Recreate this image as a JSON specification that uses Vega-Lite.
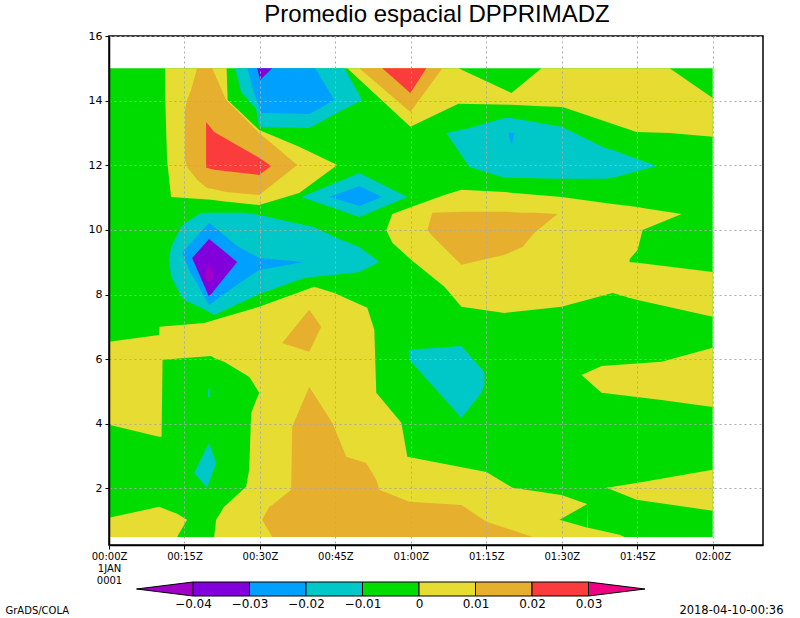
{
"$schema": "https://vega.github.io/schema/vega-lite/v6.json",
"width": 654, "height": 509,
"autosize": {"type": "none"},
"padding": {"left": 109, "top": 36, "right": 37, "bottom": 73},
"background": "white",
"config": {"view": {"stroke": "black", "strokeWidth": 1.5}, "font": "DejaVu Sans"},
"datasets": {
"bg": [{"id":"bg","t":0,"lo":0.5,"hi":15,"v":-0.005},{"id":"bg","t":120,"lo":0.5,"hi":15,"v":-0.005}],
"yel": [
{"id":"Y1","t":11.14,"lo":14.33,"hi":15,"v":0.005},{"id":"Y1","t":11.54,"lo":12.16,"hi":15,"v":0.005},{"id":"Y1","t":12.34,"lo":11.02,"hi":15,"v":0.005},{"id":"Y1","t":20.30,"lo":10.93,"hi":15,"v":0.005},{"id":"Y1","t":23.38,"lo":10.87,"hi":15,"v":0.005},{"id":"Y1","t":23.58,"lo":10.87,"hi":14.02,"v":0.005},{"id":"Y1","t":29.85,"lo":10.77,"hi":13.09,"v":0.005},{"id":"Y1","t":37.81,"lo":11.14,"hi":12.57,"v":0.005},{"id":"Y1","t":45.37,"lo":12.01,"hi":12.01,"v":0.005},
{"id":"Y2","t":47.36,"lo":15,"hi":15,"v":0.005},{"id":"Y2","t":59.90,"lo":13.19,"hi":15,"v":0.005},{"id":"Y2","t":69.45,"lo":13.90,"hi":15,"v":0.005},{"id":"Y2","t":80.00,"lo":13.87,"hi":14.24,"v":0.005},{"id":"Y2","t":85.97,"lo":13.83,"hi":15,"v":0.005},{"id":"Y2","t":90.15,"lo":13.80,"hi":15,"v":0.005},{"id":"Y2","t":104.87,"lo":13.03,"hi":15,"v":0.005},{"id":"Y2","t":111.44,"lo":13.00,"hi":15,"v":0.005},{"id":"Y2","t":120,"lo":12.88,"hi":14.08,"v":0.005},
{"id":"Y3a","t":55.12,"lo":10,"hi":10,"v":0.005},{"id":"Y3a","t":56.32,"lo":9.60,"hi":10.49,"v":0.005},{"id":"Y3a","t":60.10,"lo":9.07,"hi":10.71,"v":0.005},{"id":"Y3a","t":66.67,"lo":8.24,"hi":11.08,"v":0.005},{"id":"Y3a","t":70.05,"lo":7.62,"hi":11.24,"v":0.005},{"id":"Y3a","t":78.61,"lo":7.43,"hi":11.17,"v":0.005},{"id":"Y3a","t":89.95,"lo":7.62,"hi":11.02,"v":0.005},{"id":"Y3a","t":100.10,"lo":8.05,"hi":10.80,"v":0.005},{"id":"Y3a","t":103.48,"lo":7.90,"hi":10.74,"v":0.005},
{"id":"Y3b","t":103.0,"lo":9.01,"hi":10.75,"v":0.005},{"id":"Y3b","t":105.07,"lo":9.38,"hi":10.71,"v":0.005},{"id":"Y3b","t":106.07,"lo":10.00,"hi":10.68,"v":0.005},{"id":"Y3b","t":113.83,"lo":10.49,"hi":10.49,"v":0.005},
{"id":"Y3c","t":103.0,"lo":7.92,"hi":9.01,"v":0.005},{"id":"Y3c","t":105.07,"lo":7.83,"hi":8.98,"v":0.005},{"id":"Y3c","t":120,"lo":7.31,"hi":8.70,"v":0.005},
{"id":"Y4","t":0,"lo":0.5,"hi":6.54,"v":0.005},{"id":"Y4","t":9.95,"lo":0.5,"hi":6.75,"v":0.005},{"id":"Y4","t":10.05,"lo":0.5,"hi":7.00,"v":0.005},{"id":"Y4","t":18.91,"lo":0.5,"hi":7.12,"v":0.005},{"id":"Y4","t":29.85,"lo":0.5,"hi":7.62,"v":0.005},{"id":"Y4","t":40.80,"lo":0.5,"hi":8.24,"v":0.005},{"id":"Y4","t":44.78,"lo":0.5,"hi":8.05,"v":0.005},{"id":"Y4","t":51.34,"lo":0.5,"hi":7.59,"v":0.005},{"id":"Y4","t":52.74,"lo":0.5,"hi":6.91,"v":0.005},{"id":"Y4","t":53.13,"lo":0.5,"hi":4.96,"v":0.005},{"id":"Y4","t":58.11,"lo":0.5,"hi":4.03,"v":0.005},{"id":"Y4","t":59.30,"lo":0.5,"hi":2.98,"v":0.005},{"id":"Y4","t":75.02,"lo":0.5,"hi":2.51,"v":0.005},{"id":"Y4","t":80.20,"lo":0.5,"hi":2.02,"v":0.005},{"id":"Y4","t":89.95,"lo":0.5,"hi":1.80,"v":0.005},{"id":"Y4","t":95.02,"lo":0.5,"hi":1.52,"v":0.005},{"id":"Y4","t":95.22,"lo":0.5,"hi":0.78,"v":0.005},{"id":"Y4","t":101.49,"lo":0.5,"hi":0.57,"v":0.005},{"id":"Y4","t":102.49,"lo":0.5,"hi":0.5,"v":0.005},
{"id":"Y6a","t":98.90,"lo":2.02,"hi":2.02,"v":0.005},{"id":"Y6a","t":104.87,"lo":1.65,"hi":2.17,"v":0.005},{"id":"Y6a","t":120,"lo":1.31,"hi":2.58,"v":0.005},
{"id":"Y6b","t":93.93,"lo":5.51,"hi":5.51,"v":0.005},{"id":"Y6b","t":97.91,"lo":4.96,"hi":5.79,"v":0.005},{"id":"Y6b","t":109.85,"lo":4.74,"hi":5.92,"v":0.005},{"id":"Y6b","t":120,"lo":4.52,"hi":6.35,"v":0.005}
],
"grn": [
{"id":"G1","t":0,"lo":0.5,"hi":3.97,"v":-0.005},{"id":"G1","t":9.95,"lo":0.5,"hi":3.60,"v":-0.005},{"id":"G1","t":10.45,"lo":0.5,"hi":3.60,"v":-0.005},{"id":"G1","t":10.65,"lo":0.5,"hi":5.98,"v":-0.005},{"id":"G1","t":20.30,"lo":0.5,"hi":6.10,"v":-0.005},{"id":"G1","t":20.90,"lo":0.5,"hi":6.04,"v":-0.005},{"id":"G1","t":21.29,"lo":1.03,"hi":6.01,"v":-0.005},{"id":"G1","t":22.89,"lo":1.43,"hi":5.92,"v":-0.005},{"id":"G1","t":27.26,"lo":2.05,"hi":5.51,"v":-0.005},{"id":"G1","t":27.86,"lo":2.58,"hi":5.45,"v":-0.005},{"id":"G1","t":28.26,"lo":4.34,"hi":5.36,"v":-0.005},{"id":"G1","t":29.85,"lo":4.96,"hi":4.96,"v":-0.005},
{"id":"G2","t":89.55,"lo":1.03,"hi":1.03,"v":-0.005},{"id":"G2","t":95.12,"lo":0.78,"hi":1.52,"v":-0.005}
],
"yel2": [
{"id":"Y5","t":0,"lo":0.5,"hi":1.09,"v":0.005},{"id":"Y5","t":9.95,"lo":0.5,"hi":1.43,"v":0.005},{"id":"Y5","t":13.53,"lo":0.5,"hi":1.22,"v":0.005},{"id":"Y5","t":15.52,"lo":1.03,"hi":1.03,"v":0.005}
],
"org": [
{"id":"O1","t":15.12,"lo":12.16,"hi":13.71,"v":0.015},{"id":"O1","t":15.52,"lo":11.95,"hi":14.02,"v":0.015},{"id":"O1","t":16.32,"lo":11.79,"hi":14.33,"v":0.015},{"id":"O1","t":17.51,"lo":11.55,"hi":15,"v":0.015},{"id":"O1","t":19.50,"lo":11.30,"hi":15,"v":0.015},{"id":"O1","t":20.50,"lo":11.27,"hi":15,"v":0.015},{"id":"O1","t":23.28,"lo":11.17,"hi":14.02,"v":0.015},{"id":"O1","t":29.85,"lo":11.08,"hi":13.00,"v":0.015},{"id":"O1","t":37.41,"lo":12.01,"hi":12.01,"v":0.015},
{"id":"O2","t":49.75,"lo":15,"hi":15,"v":0.015},{"id":"O2","t":59.90,"lo":13.65,"hi":15,"v":0.015},{"id":"O2","t":66.27,"lo":15,"hi":15,"v":0.015},
{"id":"O3","t":63.28,"lo":10,"hi":10,"v":0.015},{"id":"O3","t":64.28,"lo":9.81,"hi":10.53,"v":0.015},{"id":"O3","t":70.05,"lo":8.92,"hi":10.56,"v":0.015},{"id":"O3","t":78.61,"lo":9.23,"hi":10.56,"v":0.015},{"id":"O3","t":82.19,"lo":9.47,"hi":10.53,"v":0.015},{"id":"O3","t":84.58,"lo":9.91,"hi":10.53,"v":0.015},{"id":"O3","t":89.15,"lo":10.49,"hi":10.49,"v":0.015},
{"id":"O4","t":30.45,"lo":1.03,"hi":1.03,"v":0.015},{"id":"O4","t":31.84,"lo":0.66,"hi":1.43,"v":0.015},{"id":"O4","t":32.44,"lo":0.5,"hi":1.49,"v":0.015},{"id":"O4","t":36.22,"lo":0.5,"hi":1.96,"v":0.015},{"id":"O4","t":36.42,"lo":0.5,"hi":3.91,"v":0.015},{"id":"O4","t":39.80,"lo":0.5,"hi":5.14,"v":0.015},{"id":"O4","t":44.38,"lo":0.5,"hi":4.03,"v":0.015},{"id":"O4","t":47.16,"lo":0.5,"hi":2.98,"v":0.015},{"id":"O4","t":51.14,"lo":0.5,"hi":2.79,"v":0.015},{"id":"O4","t":53.13,"lo":0.5,"hi":2.27,"v":0.015},{"id":"O4","t":53.73,"lo":0.5,"hi":1.96,"v":0.015},{"id":"O4","t":59.70,"lo":0.5,"hi":1.59,"v":0.015},{"id":"O4","t":70.05,"lo":0.5,"hi":1.49,"v":0.015},{"id":"O4","t":75.02,"lo":0.5,"hi":0.97,"v":0.015},{"id":"O4","t":84.18,"lo":0.5,"hi":0.5,"v":0.015},
{"id":"O5","t":34.43,"lo":6.50,"hi":6.50,"v":0.015},{"id":"O5","t":39.80,"lo":6.23,"hi":7.53,"v":0.015},{"id":"O5","t":42.19,"lo":7.00,"hi":7.00,"v":0.015}
],
"red": [
{"id":"R1","t":19.30,"lo":11.92,"hi":13.34,"v":0.025},{"id":"R1","t":20.90,"lo":11.86,"hi":13.03,"v":0.025},{"id":"R1","t":29.85,"lo":11.70,"hi":12.23,"v":0.025},{"id":"R1","t":32.24,"lo":11.98,"hi":11.98,"v":0.025},
{"id":"R2","t":54.33,"lo":15,"hi":15,"v":0.025},{"id":"R2","t":59.90,"lo":14.24,"hi":15,"v":0.025},{"id":"R2","t":63.08,"lo":15,"hi":15,"v":0.025}
],
"cya": [
{"id":"Ct","t":25.07,"lo":15,"hi":15,"v":-0.015},{"id":"Ct","t":26.27,"lo":14.27,"hi":15,"v":-0.015},{"id":"Ct","t":29.25,"lo":13.74,"hi":15,"v":-0.015},{"id":"Ct","t":29.85,"lo":13.19,"hi":15,"v":-0.015},{"id":"Ct","t":39.80,"lo":13.15,"hi":15,"v":-0.015},{"id":"Ct","t":46.77,"lo":13.74,"hi":15,"v":-0.015},{"id":"Ct","t":50.35,"lo":14.02,"hi":14.02,"v":-0.015},
{"id":"Cd","t":38.21,"lo":11.02,"hi":11.02,"v":-0.015},{"id":"Cd","t":49.75,"lo":10.40,"hi":11.76,"v":-0.015},{"id":"Cd","t":59.30,"lo":11.02,"hi":11.02,"v":-0.015},
{"id":"Cr","t":67.06,"lo":13,"hi":13,"v":-0.015},{"id":"Cr","t":71.64,"lo":11.95,"hi":13.15,"v":-0.015},{"id":"Cr","t":78.61,"lo":11.61,"hi":13.46,"v":-0.015},{"id":"Cr","t":80.00,"lo":11.61,"hi":13.46,"v":-0.015},{"id":"Cr","t":89.95,"lo":11.58,"hi":13.19,"v":-0.015},{"id":"Cr","t":98.51,"lo":11.58,"hi":12.54,"v":-0.015},{"id":"Cr","t":100.10,"lo":11.61,"hi":12.47,"v":-0.015},{"id":"Cr","t":108.85,"lo":11.98,"hi":11.98,"v":-0.015},
{"id":"Cm","t":59.70,"lo":5.98,"hi":6.29,"v":-0.015},{"id":"Cm","t":70.05,"lo":4.18,"hi":6.41,"v":-0.015},{"id":"Cm","t":74.03,"lo":4.96,"hi":5.70,"v":-0.015},{"id":"Cm","t":74.63,"lo":5.21,"hi":5.58,"v":-0.015},
{"id":"CL","t":11.94,"lo":9.07,"hi":9.07,"v":-0.015},{"id":"CL","t":12.34,"lo":8.55,"hi":9.47,"v":-0.015},{"id":"CL","t":14.33,"lo":7.96,"hi":10.09,"v":-0.015},{"id":"CL","t":14.93,"lo":7.83,"hi":10.19,"v":-0.015},{"id":"CL","t":18.31,"lo":7.59,"hi":10.53,"v":-0.015},{"id":"CL","t":20.90,"lo":7.37,"hi":10.53,"v":-0.015},{"id":"CL","t":26.87,"lo":7.80,"hi":10.53,"v":-0.015},{"id":"CL","t":29.85,"lo":8.02,"hi":10.46,"v":-0.015},{"id":"CL","t":38.81,"lo":8.51,"hi":10.15,"v":-0.015},{"id":"CL","t":40.80,"lo":8.55,"hi":10.09,"v":-0.015},{"id":"CL","t":44.78,"lo":8.61,"hi":9.78,"v":-0.015},{"id":"CL","t":49.75,"lo":8.70,"hi":9.47,"v":-0.015},{"id":"CL","t":53.73,"lo":9.01,"hi":9.01,"v":-0.015},
{"id":"C1","t":16.92,"lo":2.48,"hi":2.48,"v":-0.015},{"id":"C1","t":19.50,"lo":2.02,"hi":3.29,"v":-0.015},{"id":"C1","t":19.90,"lo":2.20,"hi":3.41,"v":-0.015},{"id":"C1","t":21.29,"lo":2.79,"hi":2.79,"v":-0.015},
{"id":"Cs","t":19.7,"lo":4.83,"hi":5.08,"v":-0.015},{"id":"Cs","t":20.1,"lo":4.83,"hi":5.08,"v":-0.015}
],
"blu": [
{"id":"Bt","t":27.46,"lo":15,"hi":15,"v":-0.025},{"id":"Bt","t":28.86,"lo":14.24,"hi":15,"v":-0.025},{"id":"Bt","t":30.25,"lo":13.62,"hi":15,"v":-0.025},{"id":"Bt","t":39.80,"lo":13.59,"hi":15,"v":-0.025},{"id":"Bt","t":40.99,"lo":13.68,"hi":15,"v":-0.025},{"id":"Bt","t":44.78,"lo":14.02,"hi":14.02,"v":-0.025},
{"id":"Bd","t":43.78,"lo":11.02,"hi":11.02,"v":-0.025},{"id":"Bd","t":49.75,"lo":10.74,"hi":11.36,"v":-0.025},{"id":"Bd","t":54.33,"lo":11.02,"hi":11.02,"v":-0.025},
{"id":"BL","t":14.53,"lo":9.29,"hi":9.29,"v":-0.025},{"id":"BL","t":15.92,"lo":8.76,"hi":9.54,"v":-0.025},{"id":"BL","t":19.90,"lo":7.68,"hi":10.22,"v":-0.025},{"id":"BL","t":25.47,"lo":8.30,"hi":9.50,"v":-0.025},{"id":"BL","t":29.85,"lo":8.76,"hi":9.13,"v":-0.025},{"id":"BL","t":38.81,"lo":9.01,"hi":9.01,"v":-0.025},
{"id":"Bs","t":79.40,"lo":13,"hi":13,"v":-0.025},{"id":"Bs","t":80.00,"lo":12.63,"hi":13,"v":-0.025},{"id":"Bs","t":80.60,"lo":13,"hi":13,"v":-0.025}
],
"pur": [
{"id":"Pt","t":29.45,"lo":15,"hi":15,"v":-0.035},{"id":"Pt","t":30.05,"lo":14.64,"hi":15,"v":-0.035},{"id":"Pt","t":32.44,"lo":15,"hi":15,"v":-0.035},
{"id":"PL","t":16.52,"lo":9.13,"hi":9.13,"v":-0.035},{"id":"PL","t":19.90,"lo":7.93,"hi":9.72,"v":-0.035},{"id":"PL","t":25.47,"lo":9.01,"hi":9.01,"v":-0.035}
],
"pur2": [
{"id":"P2","t":18.91,"lo":8.55,"hi":8.55,"v":-0.045},{"id":"P2","t":19.90,"lo":8.36,"hi":9.01,"v":-0.045},{"id":"P2","t":20.90,"lo":8.55,"hi":8.55,"v":-0.045}
],
"bar": [
{"a":-0.04,"b":-0.03,"v":-0.035},{"a":-0.03,"b":-0.02,"v":-0.025},{"a":-0.02,"b":-0.01,"v":-0.015},{"a":-0.01,"b":0,"v":-0.005},{"a":0,"b":0.01,"v":0.005},{"a":0.01,"b":0.02,"v":0.015},{"a":0.02,"b":0.03,"v":0.025}
],
"tri": [
{"a":-0.05,"lo":0.5,"hi":0.5,"v":-0.045},{"a":-0.04,"lo":0,"hi":1,"v":-0.045},
{"a":0.03,"lo":0,"hi":1,"v":0.035},{"a":0.04,"lo":0.5,"hi":0.5,"v":0.035}
]
},
"layer": [
{
"encoding": {
"x": {"field": "t", "type": "quantitative",
"scale": {"domain": [0, 130], "nice": false, "zero": false},
"axis": {"values": [0,15,30,45,60,75,90,105,120],
"labelExpr": "datum.value == 0 ? ['00:00Z','1JAN','0001'] : (datum.value < 60 ? '00' : '0' + floor(datum.value/60)) + ':' + (datum.value % 60 == 0 ? '00' : '' + (datum.value % 60)) + 'Z'",
"grid": true, "gridDash": [2,3], "gridColor": "#aaaaaa", "gridWidth": 1,
"domain": true, "domainColor": "black", "domainWidth": 1.5,
"ticks": true, "tickColor": "black", "tickSize": 4,
"labelFont": "DejaVu Sans", "labelFontSize": 10, "labelColor": "black", "labelPadding": 2,
"labelFlush": false, "labelOverlap": false, "labelLineHeight": 12,
"title": "GrADS/COLA", "titleFont": "DejaVu Sans", "titleFontSize": 10, "titleFontWeight": "normal", "titleColor": "black",
"titleX": -104, "titleY": 65, "titleAlign": "left", "titleBaseline": "middle", "titleAnchor": null,
"zindex": 1}},
"y": {"field": "lo", "type": "quantitative",
"scale": {"domain": [0.25, 16], "nice": false, "zero": false},
"axis": {"values": [2,4,6,8,10,12,14,16], "format": "d",
"grid": true, "gridDash": [2,3], "gridColor": "#aaaaaa", "gridWidth": 1,
"domain": true, "domainColor": "black", "domainWidth": 1.5,
"ticks": true, "tickColor": "black", "tickSize": 4,
"labelFont": "DejaVu Sans", "labelFontSize": 11, "labelColor": "black", "labelPadding": 3,
"labelFlush": false, "labelOverlap": false,
"title": "Promedio espacial DPPRIMADZ", "titleFont": "Liberation Sans", "titleFontSize": 24, "titleFontWeight": "normal", "titleColor": "black",
"titleAngle": 0, "titleX": 327.5, "titleY": -15, "titleAlign": "center", "titleBaseline": "alphabetic", "titleAnchor": null,
"zindex": 1}},
"y2": {"field": "hi"},
"detail": {"field": "id", "type": "nominal"},
"fill": {"field": "v", "type": "quantitative",
"scale": {"type": "threshold", "domain": [-0.04,-0.03,-0.02,-0.01,0,0.01,0.02,0.03],
"range": ["#a000c8","#8200dc","#00a0ff","#00c8c8","#00dc00","#e6dc32","#e6af2d","#fa3c3c","#f00082"]},
"legend": null}
},
"layer": [
{"data": {"name": "bg"}, "mark": {"type": "area", "interpolate": "linear"}},
{"data": {"name": "yel"}, "mark": {"type": "area", "interpolate": "linear"}},
{"data": {"name": "grn"}, "mark": {"type": "area", "interpolate": "linear"}},
{"data": {"name": "yel2"}, "mark": {"type": "area", "interpolate": "linear"}},
{"data": {"name": "org"}, "mark": {"type": "area", "interpolate": "linear"}},
{"data": {"name": "red"}, "mark": {"type": "area", "interpolate": "linear"}},
{"data": {"name": "cya"}, "mark": {"type": "area", "interpolate": "linear"}},
{"data": {"name": "blu"}, "mark": {"type": "area", "interpolate": "linear"}},
{"data": {"name": "pur"}, "mark": {"type": "area", "interpolate": "linear"}},
{"data": {"name": "pur2"}, "mark": {"type": "area", "interpolate": "linear"}}
]
},
{
"layer": [
{
"data": {"name": "bar"},
"mark": {"type": "rect", "stroke": "black", "strokeWidth": 1},
"encoding": {
"x": {"field": "a", "type": "quantitative",
"scale": {"domain": [-0.05, 0.04], "range": [27.5, 536], "nice": false, "zero": false},
"axis": {"orient": "bottom", "offset": 53, "domain": false, "ticks": false, "grid": false,
"values": [-0.04,-0.03,-0.02,-0.01,0,0.01,0.02,0.03], "format": ".2~f",
"labelFont": "DejaVu Sans", "labelFontSize": 12, "labelColor": "black", "labelPadding": 0,
"labelBaseline": "top", "labelFlush": false, "labelOverlap": false,
"title": "2018-04-10-00:36", "titleFont": "DejaVu Sans", "titleFontSize": 11.5, "titleFontWeight": "normal", "titleColor": "black",
"titleX": 674, "titleY": 12, "titleAlign": "right", "titleBaseline": "middle", "titleAnchor": null}},
"x2": {"field": "b"},
"y": {"datum": 0, "type": "quantitative",
"scale": {"domain": [0, 1], "range": [560, 546], "nice": false, "zero": false}, "axis": null},
"y2": {"datum": 1},
"fill": {"field": "v", "type": "quantitative",
"scale": {"type": "threshold", "domain": [-0.04,-0.03,-0.02,-0.01,0,0.01,0.02,0.03],
"range": ["#a000c8","#8200dc","#00a0ff","#00c8c8","#00dc00","#e6dc32","#e6af2d","#fa3c3c","#f00082"]},
"legend": null}
}
},
{
"data": {"name": "tri"},
"mark": {"type": "area", "stroke": "black", "strokeWidth": 1, "interpolate": "linear"},
"encoding": {
"x": {"field": "a", "type": "quantitative"},
"y": {"field": "lo", "type": "quantitative", "axis": null},
"y2": {"field": "hi"},
"detail": {"field": "v", "type": "nominal"},
"fill": {"field": "v", "type": "quantitative",
"scale": {"type": "threshold", "domain": [-0.04,-0.03,-0.02,-0.01,0,0.01,0.02,0.03],
"range": ["#a000c8","#8200dc","#00a0ff","#00c8c8","#00dc00","#e6dc32","#e6af2d","#fa3c3c","#f00082"]},
"legend": null}
}
}
],
"resolve": {"scale": {"fill": "shared"}}
}
],
"resolve": {"scale": {"x": "independent", "y": "independent", "fill": "independent"}, "axis": {"x": "independent", "y": "independent"}}
}
